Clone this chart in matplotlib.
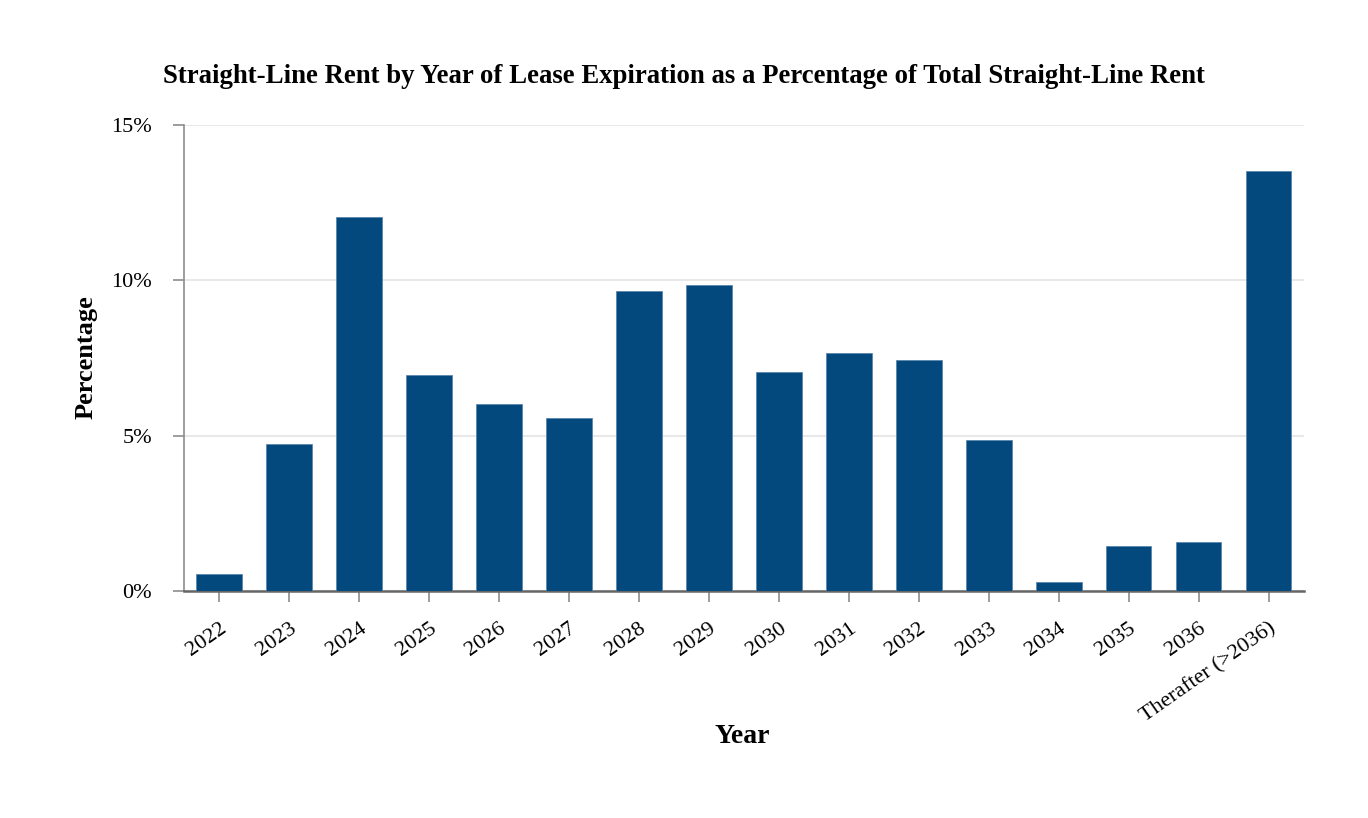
import matplotlib
matplotlib.use("Agg")
import matplotlib.pyplot as plt
from matplotlib.ticker import FuncFormatter

categories = ["2022", "2023", "2024", "2025", "2026", "2027", "2028", "2029",
              "2030", "2031", "2032", "2033", "2034", "2035", "2036",
              "Therafter (>2036)"]
values = [0.55, 4.74, 12.03, 6.94, 6.03, 5.58, 9.65, 9.84,
          7.06, 7.65, 7.45, 4.87, 0.29, 1.45, 1.58, 13.52]
yticks = [0, 5, 10, 15]

plt.rcParams['font.family'] = ['Liberation Serif', 'DejaVu Serif']

fig = plt.figure(figsize=(13.68, 8.18), dpi=100)
ax = fig.add_axes([0.1345, 0.2775, 0.8185, 0.5695])

x = list(range(len(categories)))
ax.bar(x, values, width=0.65, color="#03497d", edgecolor="#5b86ad", linewidth=0.6, zorder=3)

ax.set_xlim(-0.5, len(categories) - 0.5)
ax.set_ylim(0, 15)
ax.set_yticks(yticks)
ax.yaxis.set_major_formatter(FuncFormatter(lambda v, p: f"{v:.0f}%"))
ax.grid(axis='y', color="#e8e8e8", linewidth=1.5, zorder=0)
ax.set_axisbelow(True)

ax.set_xticks(x)
ax.set_xticklabels(categories, rotation=35, ha='right', rotation_mode='anchor')

for s in ['top', 'right']:
    ax.spines[s].set_visible(False)
ax.spines['left'].set_color("#8c8c8c")
ax.spines['left'].set_linewidth(1.2)
ax.spines['bottom'].set_color("#666666")
ax.spines['bottom'].set_linewidth(1.8)

ax.tick_params(axis='y', length=8, width=1.2, color="#8c8c8c", labelsize=16, pad=15, direction='out')
ax.tick_params(axis='x', length=8, width=1.2, color="#8c8c8c", labelsize=16, pad=12, direction='out')

ax.set_xlabel("Year", fontsize=20, fontweight='bold', va='center')
ax.xaxis.set_label_coords(0.499, -0.313)
ax.set_ylabel("Percentage", fontsize=19, fontweight='bold', va='center')
ax.yaxis.set_label_coords(-0.0875, 0.502)

fig.text(0.5, 0.906, "Straight-Line Rent by Year of Lease Expiration as a Percentage of Total Straight-Line Rent",
         ha='center', va='center', fontsize=19.3, fontweight='bold')

fig.savefig("out.png", dpi=100, facecolor='white')
